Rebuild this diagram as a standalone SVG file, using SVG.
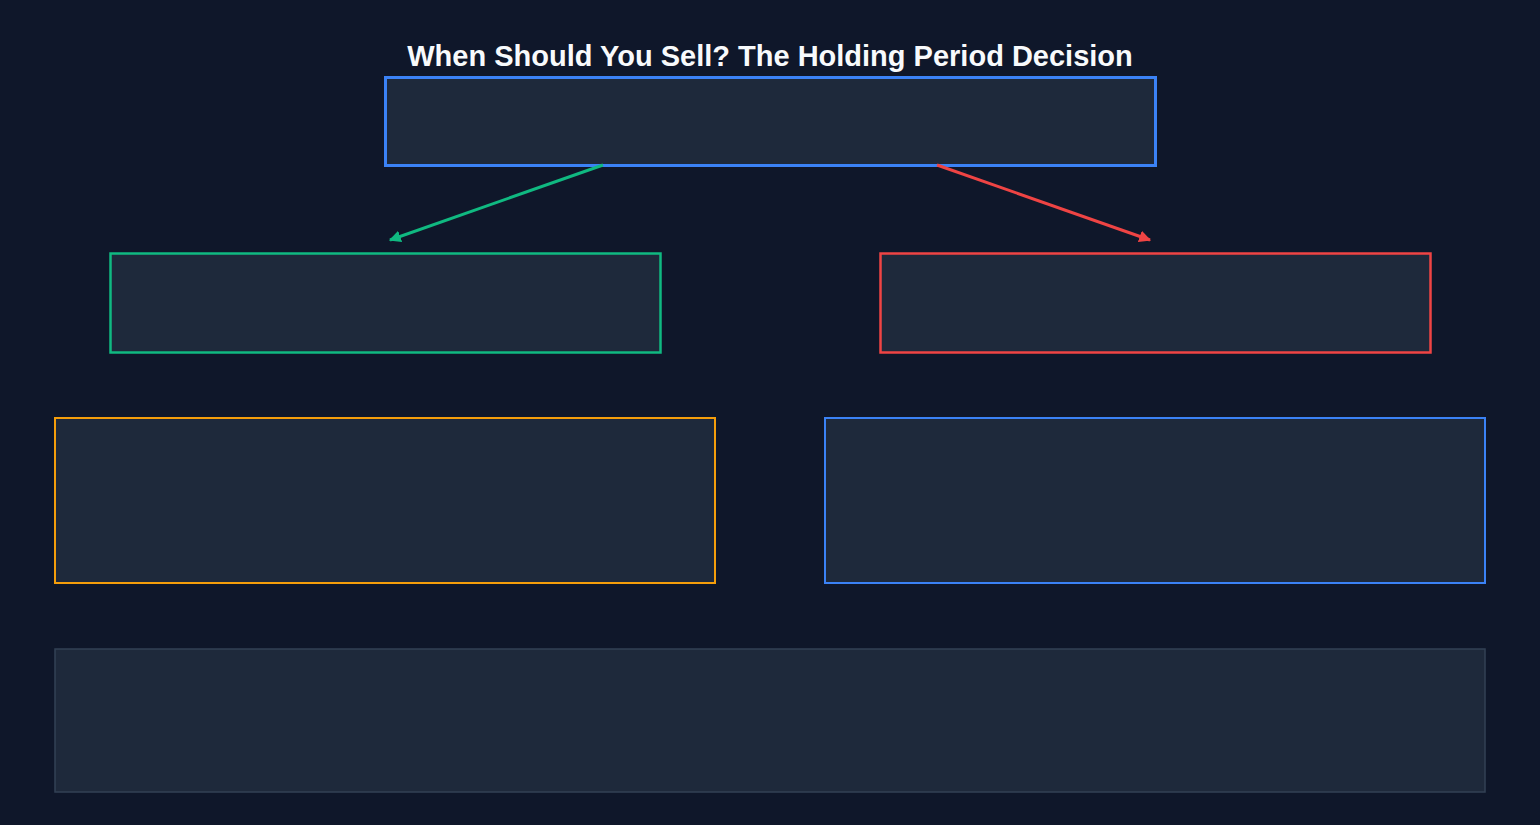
<svg xmlns="http://www.w3.org/2000/svg" width="1540" height="825" viewBox="0 0 1540 825">
<defs>
<style>
.box{fill:#1e293b}
.title{font-family:"Liberation Sans",Arial,sans-serif;font-weight:bold;font-size:29px;fill:#f8fafc;text-anchor:middle}
</style>
<marker id="ag" viewBox="0 0 10 10" refX="9" refY="5" markerWidth="4" markerHeight="4" orient="auto"><path d="M0,0 L10,5 L0,10 z" fill="#10b981"/></marker>
<marker id="ar" viewBox="0 0 10 10" refX="9" refY="5" markerWidth="4" markerHeight="4" orient="auto"><path d="M0,0 L10,5 L0,10 z" fill="#ef4444"/></marker>
</defs>
<rect width="1540" height="825" fill="#0f172a"/>
<text class="title" x="770" y="66">When Should You Sell? The Holding Period Decision</text>
<g id="decision"><rect class="box" x="385.5" y="77.5" width="770" height="88" stroke="#3b82f6" stroke-width="3"/></g>
<g id="short-term"><rect class="box" x="110.5" y="253.5" width="550" height="99" stroke="#10b981" stroke-width="2.5"/></g>
<g id="long-term"><rect class="box" x="880.5" y="253.5" width="550" height="99" stroke="#ef4444" stroke-width="2.5"/></g>
<g id="left-detail"><rect class="box" x="55" y="418" width="660" height="165" stroke="#f59e0b" stroke-width="2"/></g>
<g id="right-detail"><rect class="box" x="825" y="418" width="660" height="165" stroke="#3b82f6" stroke-width="2"/></g>
<g id="summary"><rect class="box" x="55" y="649" width="1430" height="143" stroke="#334155" stroke-width="1.5"/></g>
<g id="connectors" fill="none" stroke-width="3">
<line x1="603" y1="165" x2="390" y2="240" stroke="#10b981" marker-end="url(#ag)"/>
<line x1="937" y1="165" x2="1150" y2="240" stroke="#ef4444" marker-end="url(#ar)"/>
</g>
</svg>
